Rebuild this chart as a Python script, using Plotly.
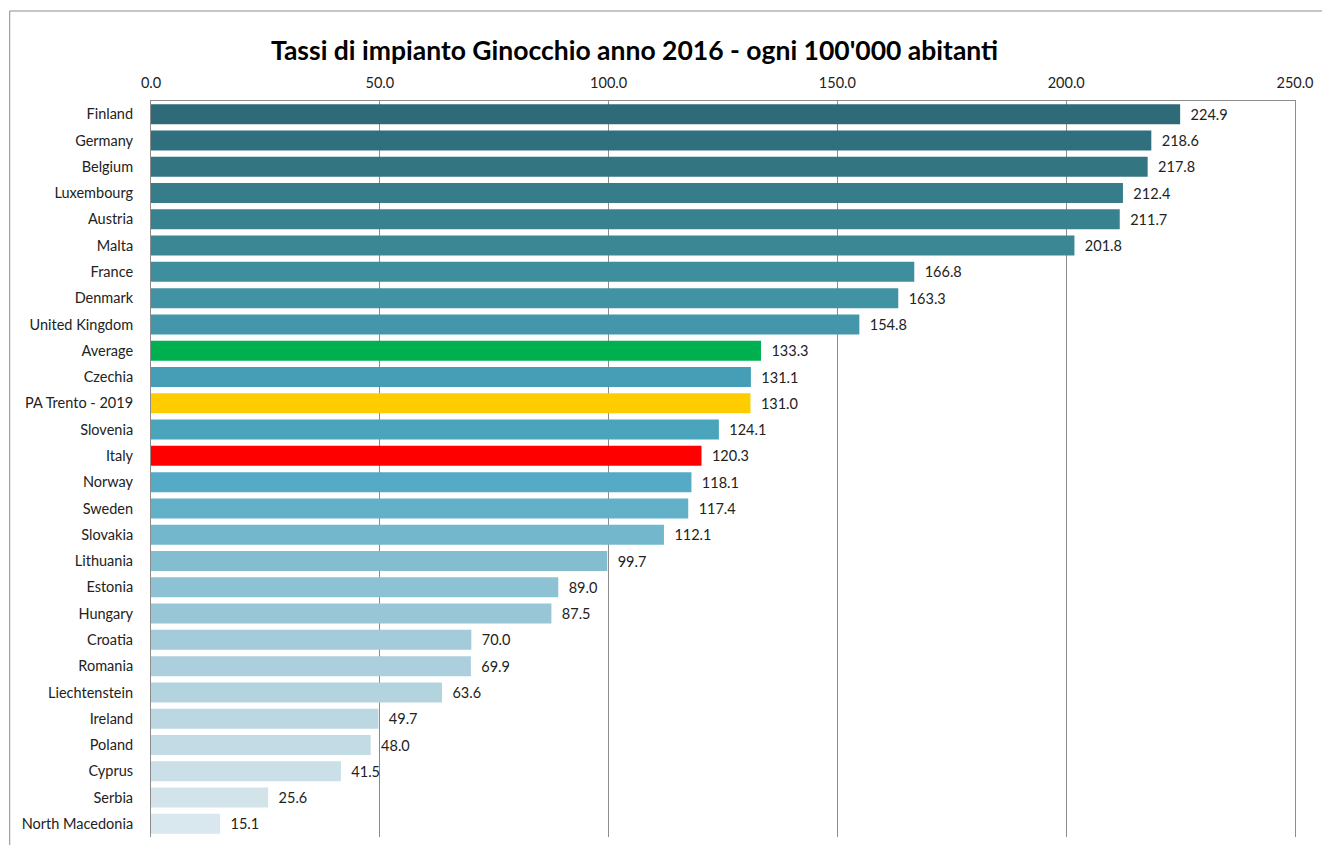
import plotly.graph_objects as go

# Knee implant rates, 2016, per 100,000 inhabitants
countries = [
    "Finland", "Germany", "Belgium", "Luxembourg", "Austria", "Malta", "France",
    "Denmark", "United Kingdom", "Average", "Czechia", "PA Trento - 2019",
    "Slovenia", "Italy", "Norway", "Sweden", "Slovakia", "Lithuania", "Estonia",
    "Hungary", "Croatia", "Romania", "Liechtenstein", "Ireland", "Poland",
    "Cyprus", "Serbia", "North Macedonia",
]
rates = [
    224.9, 218.6, 217.8, 212.4, 211.7, 201.8, 166.8,
    163.3, 154.8, 133.3, 131.1, 131.0,
    124.1, 120.3, 118.1, 117.4, 112.1, 99.7, 89.0,
    87.5, 70.0, 69.9, 63.6, 49.7, 48.0,
    41.5, 25.6, 15.1,
]
bar_colors = [
    "#2E6A77", "#306F7D", "#337682", "#367C89", "#38818F", "#3B8794", "#3E8E9D",
    "#4193A3", "#4497AA", "#00B050", "#469EB6", "#FFCC00",
    "#4AA5BC", "#FF0000", "#55ABC6", "#63B1C9", "#73B7CD", "#82BDD0", "#8DC2D5",
    "#98C6D7", "#A3CBDA", "#ABCFDC", "#B3D3DF", "#BBD7E1", "#C2DBE4",
    "#CADFE7", "#D2E4EA", "#D8E8EE",
]

FONT = "Lato"
GRID = "#8C8C8C"
TXT = dict(family=FONT, size=14.5, color="#222222")

fig = go.Figure(
    go.Bar(
        x=rates,
        y=countries,
        orientation="h",
        marker=dict(color=bar_colors, line=dict(width=0)),
        texttemplate="  %{x:.1f}",
        textposition="outside",
        textfont=TXT,
        cliponaxis=False,
        width=0.76,
        hoverinfo="x+y",
    )
)

fig.update_layout(
    width=1322,
    height=845,
    margin=dict(l=151, r=24, t=101, b=8),
    paper_bgcolor="white",
    plot_bgcolor="white",
    showlegend=False,
    font=TXT,
    title=dict(
        text="<b>Tassi di impianto Ginocchio anno 2016 - ogni 100'000 abitanti</b>",
        x=0.48,
        xanchor="center",
        y=0.94,
        yanchor="middle",
        font=dict(family=FONT, size=26.5, color="#000000"),
    ),
    xaxis=dict(
        side="top",
        range=[0, 250],
        tickvals=[0, 50, 100, 150, 200, 250],
        tickformat=".1f",
        showgrid=True,
        gridcolor=GRID,
        gridwidth=1,
        showline=True,
        linecolor=GRID,
        linewidth=1,
        ticks="",
        zeroline=False,
        ticklabelstandoff=6,
        tickfont=TXT,
    ),
    yaxis=dict(
        autorange="reversed",
        showline=True,
        linecolor=GRID,
        linewidth=1,
        mirror=True,
        ticks="",
        ticklabelstandoff=14,
        tickfont=TXT,
    ),
    shapes=[
        # outer chart frame
        dict(
            type="rect",
            xref="paper",
            yref="paper",
            x0=-0.1235,
            x1=1.1,
            y0=-0.1,
            y1=1.1223,
            line=dict(color=GRID, width=1),
            fillcolor="rgba(0,0,0,0)",
            layer="below",
        )
    ],
)

fig.write_html("out.html")
